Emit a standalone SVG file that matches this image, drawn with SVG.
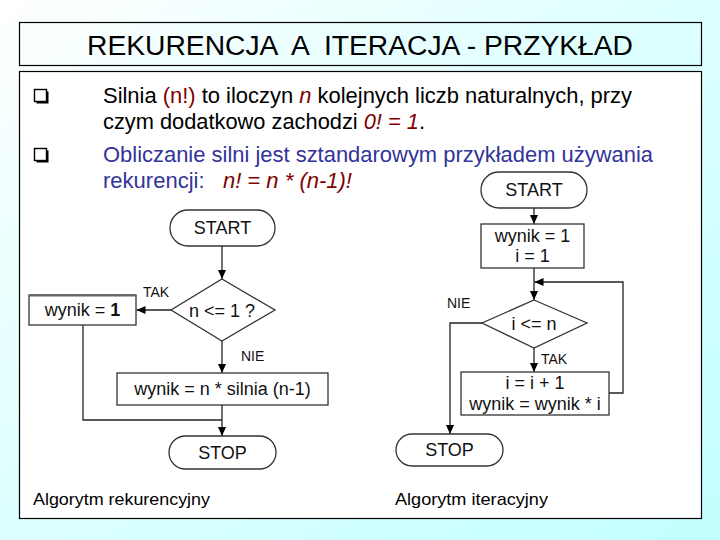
<svg xmlns="http://www.w3.org/2000/svg" width="720" height="540" viewBox="0 0 720 540">
<defs>
<linearGradient id="bg" x1="0" y1="0" x2="1" y2="1">
<stop offset="0" stop-color="#ffffff"/>
<stop offset="0.4" stop-color="#e2ffff"/>
<stop offset="1" stop-color="#c2ffff"/>
</linearGradient>
<marker id="ah" markerWidth="10" markerHeight="8" refX="9" refY="4" orient="auto" markerUnits="userSpaceOnUse">
<path d="M0,0 L9,4 L0,8 Z" fill="#000"/>
</marker>
<style>
text{font-family:"Liberation Sans",Arial,sans-serif;white-space:pre;}
.fc{font-size:18px;fill:#111;text-anchor:middle;}
.lbl{font-size:14px;fill:#111;}
.shape{fill:#fff;stroke:#333;stroke-width:1.3;}
.conn{fill:none;stroke:#222;stroke-width:1.3;}
.body{font-size:22px;}
.red{fill:#800000;}
.navy{fill:#333399;}
.it{font-style:italic;}
</style>
</defs>
<rect x="0" y="0" width="720" height="540" fill="url(#bg)"/>
<g id="title">
<rect x="19.5" y="22.5" width="682" height="43" fill="none" stroke="#000" stroke-width="1.2"/>
<text xml:space="preserve" x="360" y="55" font-size="27" text-anchor="middle" fill="#000" textLength="546" lengthAdjust="spacingAndGlyphs">REKURENCJA  A  ITERACJA - PRZYKŁAD</text>
</g>
<g id="panel">
<rect x="19.5" y="71.5" width="682" height="447" fill="#fff" stroke="#000" stroke-width="1.2"/>
</g>
<g id="bullets">
<rect x="34.5" y="89.5" width="12" height="12" fill="#fff" stroke="#000" stroke-width="1.4"/>
<path d="M36.5,102.5 H47.5 V91.5" fill="none" stroke="#000" stroke-width="2"/>
<rect x="34.5" y="148.5" width="12" height="12" fill="#fff" stroke="#000" stroke-width="1.4"/>
<path d="M36.5,161.5 H47.5 V150.5" fill="none" stroke="#000" stroke-width="2"/>
</g>
<g id="text-body">
<text class="body" x="103" y="103" textLength="529" lengthAdjust="spacingAndGlyphs">Silnia <tspan class="red">(n!)</tspan> to iloczyn <tspan class="red it">n</tspan> kolejnych liczb naturalnych, przy</text>
<text class="body" x="103" y="129" textLength="322" lengthAdjust="spacingAndGlyphs">czym dodatkowo zachodzi <tspan class="red it">0! = 1</tspan>.</text>
<text class="body navy" x="103" y="162" textLength="550" lengthAdjust="spacingAndGlyphs">Obliczanie silni jest sztandarowym przykładem używania</text>
<text xml:space="preserve" class="body" x="103" y="188" textLength="249" lengthAdjust="spacingAndGlyphs"><tspan class="navy">rekurencji:</tspan>   <tspan class="red it">n! = n * (n-1)!</tspan></text>
</g>
<g id="connectors">
<path class="conn" d="M222,246 V279" marker-end="url(#ah)"/>
<path class="conn" d="M171,310 H136.5" marker-end="url(#ah)"/>
<path class="conn" d="M222,341 V373" marker-end="url(#ah)"/>
<path class="conn" d="M83,325 V420 H222"/>
<path class="conn" d="M222,405 V436" marker-end="url(#ah)"/>
<path class="conn" d="M534,208 V224" marker-end="url(#ah)"/>
<path class="conn" d="M534,268 V300" marker-end="url(#ah)"/>
<path class="conn" d="M609,393 H623 V282 H534.5" marker-end="url(#ah)"/>
<path class="conn" d="M482,323 H450 V434" marker-end="url(#ah)"/>
<path class="conn" d="M534,348 V372" marker-end="url(#ah)"/>
</g>
<g id="l-start">
<rect class="shape" x="170" y="210" width="105" height="36" rx="18" ry="18"/>
<text class="fc" x="222.5" y="234">START</text>
</g>
<g id="l-cond">
<polygon class="shape" points="222,279 275,310 222,341 171,310"/>
<text class="fc" x="222" y="317">n &lt;= 1 ?</text>
</g>
<g id="l-tak"><text class="lbl" x="143" y="297">TAK</text></g>
<g id="l-nie"><text class="lbl" x="241" y="361">NIE</text></g>
<g id="l-one">
<rect class="shape" x="29" y="295" width="107" height="30"/>
<line x1="29" y1="295.5" x2="136" y2="295.5" stroke="#666" stroke-width="2"/>
<text class="fc" x="82.5" y="316">wynik = <tspan font-weight="bold">1</tspan></text>
</g>
<g id="l-rec">
<rect class="shape" x="117" y="373" width="211" height="32"/>
<text class="fc" x="222.5" y="395">wynik = n * silnia (n-1)</text>
</g>
<g id="l-stop">
<rect class="shape" x="169" y="436" width="107" height="33" rx="16.5" ry="16.5"/>
<text class="fc" x="222.5" y="459">STOP</text>
</g>
<g id="r-start">
<rect class="shape" x="481" y="172" width="106" height="36" rx="18" ry="18"/>
<text class="fc" x="534" y="196">START</text>
</g>
<g id="r-init">
<rect class="shape" x="481" y="224" width="103" height="44"/>
<text class="fc" x="532.5" y="242">wynik = 1</text>
<text class="fc" x="532.5" y="262">i = 1</text>
</g>
<g id="r-cond">
<polygon class="shape" points="534,300 587,323 534,348 482,323"/>
<text class="fc" x="534" y="330">i &lt;= n</text>
</g>
<g id="r-nie"><text class="lbl" x="447" y="308">NIE</text></g>
<g id="r-tak"><text class="lbl" x="541" y="364">TAK</text></g>
<g id="r-loop">
<rect class="shape" x="461" y="372" width="148" height="43"/>
<text class="fc" x="535" y="389">i = i + 1</text>
<text class="fc" x="535" y="410">wynik = wynik * i</text>
</g>
<g id="r-stop">
<rect class="shape" x="396" y="434" width="107" height="32" rx="16" ry="16"/>
<text class="fc" x="449.5" y="456">STOP</text>
</g>
<g id="captions">
<text x="33" y="505" font-size="17" fill="#000" textLength="177" lengthAdjust="spacingAndGlyphs">Algorytm rekurencyjny</text>
<text x="395" y="505" font-size="17" fill="#000" textLength="153" lengthAdjust="spacingAndGlyphs">Algorytm iteracyjny</text>
</g>
</svg>
